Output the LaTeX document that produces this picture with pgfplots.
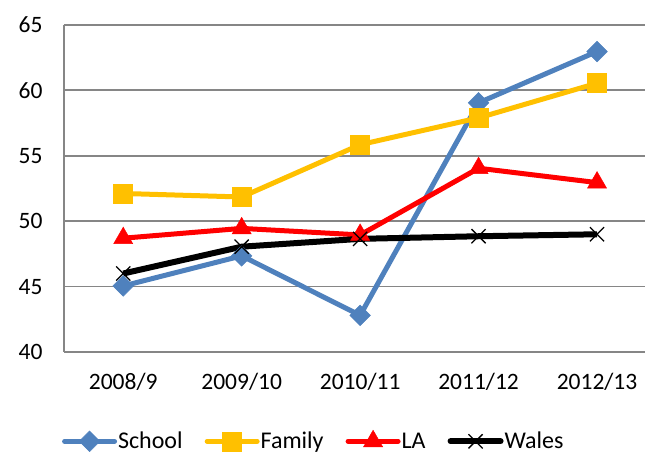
\documentclass[border=0pt]{standalone}
\usepackage{fontspec}
\setmainfont{Carlito}
\usepackage{pgfplots}
\pgfplotsset{compat=1.18}

\definecolor{schoolblue}{HTML}{4F81BD}
\definecolor{familyyellow}{HTML}{FFC000}
\definecolor{lared}{HTML}{FF0000}
\definecolor{gridgray}{HTML}{868686}

\begin{document}
\begin{tikzpicture}
\begin{axis}[
    name=main,
    scale only axis,
    width=581pt, height=327pt,
    xmin=-0.5, xmax=4.405,
    ymin=40, ymax=65,
    ytick={40,45,50,55,60,65},
    xtick={0,1,2,3,4},
    xticklabels={2008/9,2009/10,2010/11,2011/12,2012/13},
    axis x line*=bottom,
    axis y line*=left,
    axis line style={gridgray, line width=1.8pt, -},
    major tick length=0pt,
    ymajorgrids=true,
    grid style={gridgray, line width=1.8pt},
    ticklabel style={font=\fontsize{23.5}{26}\selectfont},
    /pgf/number format/assume math mode=true,
    yticklabel style={xshift=-18pt},
    xticklabel style={yshift=-18pt},
    legend columns=4,
    legend style={draw=none, fill=none, at={(0.429,-0.272)}, anchor=center,
        font=\fontsize{24}{26}\selectfont,
        nodes={inner sep=1pt},
        /tikz/every even column/.append style={column sep=21pt}},
    legend image code/.code={
        \draw[#1, line cap=round, mark=none] (0pt,0pt) -- (50pt,0pt);
        \draw[#1, draw=none, mark repeat=2, mark phase=2] plot coordinates {(0pt,0pt) (25pt,0pt) (50pt,0pt)};
    },
    clip=false,
]
\addplot[color=schoolblue, line width=5pt, mark=square*, mark size=7.3pt,
    mark options={rotate=45, line width=0.5pt}] coordinates {
    (0,45.05) (1,47.35) (2,42.8) (3,59.05) (4,62.97)
};
\addlegendentry{School}
\addplot[color=familyyellow, line width=5pt, mark=square*, mark size=9.5pt,
    mark options={line width=0.5pt}] coordinates {
    (0,52.12) (1,51.85) (2,55.85) (3,57.9) (4,60.55)
};
\addlegendentry{Family}
\addplot[color=lared, line width=5pt, mark=triangle*, mark size=11pt,
    mark options={line width=0.5pt}] coordinates {
    (0,48.7) (1,49.45) (2,48.95) (3,54.05) (4,52.95)
};
\addlegendentry{LA}
\addplot[color=black, line width=6pt, mark=x, mark size=10pt,
    mark options={line width=1.3pt}] coordinates {
    (0,46.0) (1,48.05) (2,48.65) (3,48.85) (4,49.0)
};
\addlegendentry{Wales}
\end{axis}
\pgfresetboundingbox
\path (main.south west) ++(-64pt,-102pt) rectangle ++(645pt,454pt);
\end{tikzpicture}
\end{document}
